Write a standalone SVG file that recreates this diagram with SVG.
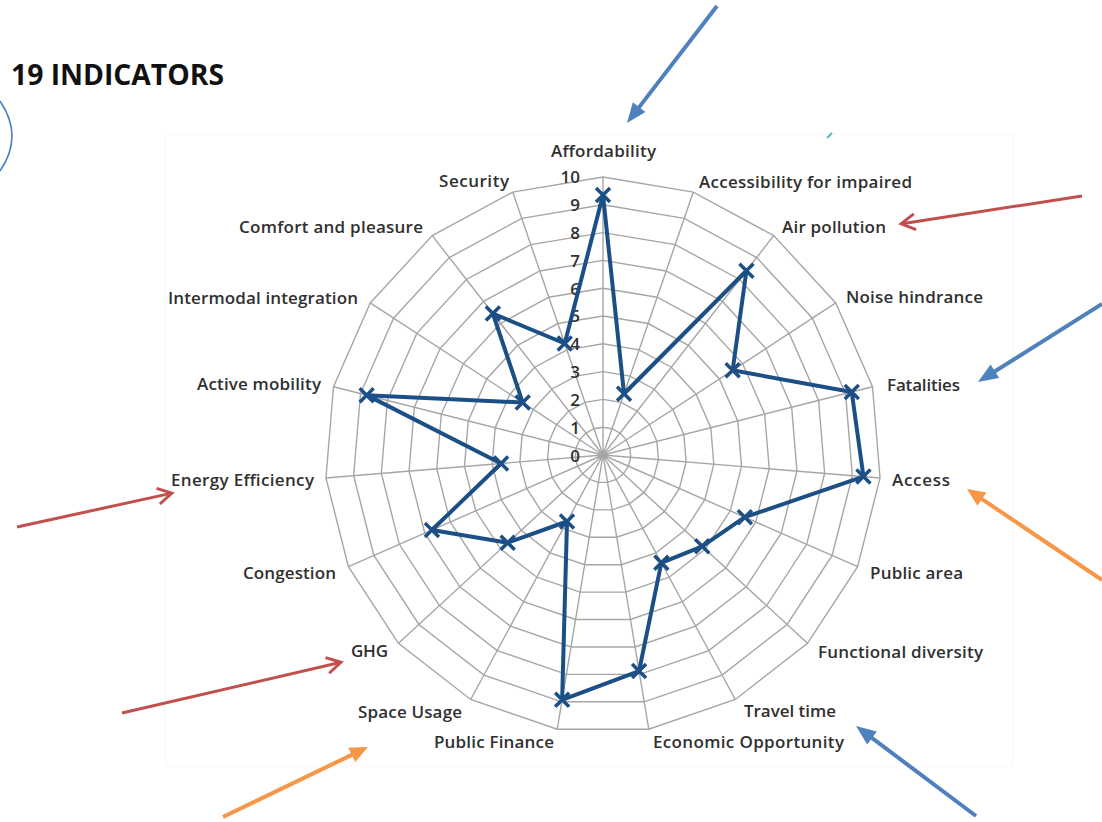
<svg xmlns="http://www.w3.org/2000/svg" width="1102" height="822" viewBox="0 0 1102 822">
<defs>
<style>
.lbl{font-family:"Open Sans","Liberation Sans",sans-serif;font-size:17px;font-weight:600;fill:#303030}
.num{font-family:"Open Sans","Liberation Sans",sans-serif;font-size:17px;font-weight:600;fill:#303030;text-anchor:end}
.grid{fill:none;stroke:#a6a6a6}
.series{fill:none;stroke:#1c4f86;stroke-width:4;stroke-linejoin:round}
.mk{fill:none;stroke:#1c4f86;stroke-width:3.5}
.ab{fill:none;stroke:#4f81bd;stroke-width:4}
.ar{fill:none;stroke:#c0504d;stroke-width:3}
.ao{fill:none;stroke:#f79646;stroke-width:4}
</style>
<polygon id="ring" fill="none" points="0,-278 90.27,-262.94 170.75,-219.38 232.73,-152.05 269.49,-68.25 277.05,22.96 254.58,111.67 204.53,188.28 132.31,244.49 45.76,274.21 -45.76,274.21 -132.31,244.49 -204.53,188.28 -254.58,111.67 -277.05,22.96 -269.49,-68.25 -232.73,-152.05 -170.75,-219.38 -90.27,-262.94"/>
<path id="x" d="M-7,-7L7,7M-7,7L7,-7"/>
<marker id="hb" markerUnits="userSpaceOnUse" viewBox="0 0 20 18" markerWidth="20" markerHeight="18" refX="6" refY="9" orient="auto" overflow="visible"><path d="M0,1L20,9L0,17z" fill="#4f81bd"/></marker>
<marker id="ho" markerUnits="userSpaceOnUse" viewBox="0 0 18 16" markerWidth="18" markerHeight="16" refX="4" refY="8" orient="auto" overflow="visible"><path d="M0,0L18,8L0,16z" fill="#f79646"/></marker>
<marker id="hr" markerUnits="userSpaceOnUse" viewBox="0 0 20 20" markerWidth="20" markerHeight="20" refX="15" refY="10" orient="auto" overflow="visible"><path d="M2,2L16,10L2,18" fill="none" stroke="#c0504d" stroke-width="3"/></marker>
</defs>
<rect width="1102" height="822" fill="#ffffff"/>
<rect x="165" y="134" width="848" height="632" fill="#ffffff" stroke="#f7f7f7" stroke-width="1"/>
<path d="M0,101 Q24,136 0,171" fill="none" stroke="#4a7cc4" stroke-width="1.6"/>
<path d="M827,138 L832,133" stroke="#5bb8c0" stroke-width="2"/>
<text id="title" x="11" y="85" font-family="'Open Sans','Liberation Sans',sans-serif" font-weight="700" font-size="29" textLength="213" lengthAdjust="spacingAndGlyphs" fill="#111111">19 INDICATORS</text>

<g id="grid" class="grid">
<g transform="translate(603 455)">
<path d="M0,0L0,-278M0,0L90.27,-262.94M0,0L170.75,-219.38M0,0L232.73,-152.05M0,0L269.49,-68.25M0,0L277.05,22.96M0,0L254.58,111.67M0,0L204.53,188.28M0,0L132.31,244.49M0,0L45.76,274.21M0,0L-45.76,274.21M0,0L-132.31,244.49M0,0L-204.53,188.28M0,0L-254.58,111.67M0,0L-277.05,22.96M0,0L-269.49,-68.25M0,0L-232.73,-152.05M0,0L-170.75,-219.38M0,0L-90.27,-262.94" stroke-width="1.4"/>
<use href="#ring" transform="scale(0.1)" stroke-width="14"/>
<use href="#ring" transform="scale(0.2)" stroke-width="7"/>
<use href="#ring" transform="scale(0.3)" stroke-width="4.667"/>
<use href="#ring" transform="scale(0.4)" stroke-width="3.5"/>
<use href="#ring" transform="scale(0.5)" stroke-width="2.8"/>
<use href="#ring" transform="scale(0.6)" stroke-width="2.333"/>
<use href="#ring" transform="scale(0.7)" stroke-width="2"/>
<use href="#ring" transform="scale(0.8)" stroke-width="1.75"/>
<use href="#ring" transform="scale(0.9)" stroke-width="1.556"/>
<use href="#ring" transform="scale(1)" stroke-width="1.4"/>
</g>
</g>

<g id="scale">
<text class="num" x="580" y="462">0</text>
<text class="num" x="580" y="434">1</text>
<text class="num" x="580" y="406">2</text>
<text class="num" x="580" y="378">3</text>
<text class="num" x="580" y="350">4</text>
<text class="num" x="580" y="322">5</text>
<text class="num" x="580" y="295">6</text>
<text class="num" x="580" y="267">7</text>
<text class="num" x="580" y="239">8</text>
<text class="num" x="580" y="211">9</text>
<text class="num" x="580" y="183">10</text>
</g>

<g id="series">
<polygon class="series" points="603,195.07 624.03,393.74 746.43,270.72 732.64,370.31 851.74,392.01 863.43,476.58 744.81,517.2 702.2,546.32 661.35,562.82 639.06,671.07 562.14,699.86 567.01,521.5 507.69,542.74 431.92,530.04 501.05,463.45 366.65,395.15 522.71,402.54 492.87,313.5 564.73,343.52"/>
<g class="mk">
<use href="#x" x="603" y="195.07"/>
<use href="#x" x="624.03" y="393.74"/>
<use href="#x" x="746.43" y="270.72"/>
<use href="#x" x="732.64" y="370.31"/>
<use href="#x" x="851.74" y="392.01"/>
<use href="#x" x="863.43" y="476.58"/>
<use href="#x" x="744.81" y="517.2"/>
<use href="#x" x="702.2" y="546.32"/>
<use href="#x" x="661.35" y="562.82"/>
<use href="#x" x="639.06" y="671.07"/>
<use href="#x" x="562.14" y="699.86"/>
<use href="#x" x="567.01" y="521.5"/>
<use href="#x" x="507.69" y="542.74"/>
<use href="#x" x="431.92" y="530.04"/>
<use href="#x" x="501.05" y="463.45"/>
<use href="#x" x="366.65" y="395.15"/>
<use href="#x" x="522.71" y="402.54"/>
<use href="#x" x="492.87" y="313.5"/>
<use href="#x" x="564.73" y="343.52"/>
</g>
</g>

<g id="labels">
<text id="n-affordability" class="lbl" x="551" y="157" textLength="105">Affordability</text>
<text id="n-accessibility" class="lbl" x="699" y="188" textLength="213">Accessibility for impaired</text>
<text id="n-air" class="lbl" x="782" y="233" textLength="104">Air pollution</text>
<text id="n-noise" class="lbl" x="846" y="303" textLength="137">Noise hindrance</text>
<text id="n-fatalities" class="lbl" x="887" y="391" textLength="73">Fatalities</text>
<text id="n-access" class="lbl" x="892" y="486" textLength="58">Access</text>
<text id="n-publicarea" class="lbl" x="870" y="579" textLength="93">Public area</text>
<text id="n-functional" class="lbl" x="818" y="658" textLength="165">Functional diversity</text>
<text id="n-travel" class="lbl" x="744" y="717" textLength="92">Travel time</text>
<text id="n-economic" class="lbl" x="653" y="748" textLength="191">Economic Opportunity</text>
<text id="n-finance" class="lbl" x="434" y="748" textLength="120">Public Finance</text>
<text id="n-space" class="lbl" x="358" y="718" textLength="104">Space Usage</text>
<text id="n-ghg" class="lbl" x="351" y="657" textLength="37">GHG</text>
<text id="n-congestion" class="lbl" x="243" y="579" textLength="93">Congestion</text>
<text id="n-energy" class="lbl" x="171" y="486" textLength="143">Energy Efficiency</text>
<text id="n-active" class="lbl" x="197" y="390" textLength="124">Active mobility</text>
<text id="n-intermodal" class="lbl" x="168" y="304" textLength="190">Intermodal integration</text>
<text id="n-comfort" class="lbl" x="239" y="233" textLength="184">Comfort and pleasure</text>
<text id="n-security" class="lbl" x="439" y="187" textLength="70">Security</text>
</g>

<g id="arrows">
<line class="ab" x1="717" y1="6" x2="635.5" y2="111.9" marker-end="url(#hb)"/>
<line class="ar" x1="1082" y1="196" x2="902.1" y2="223.7" marker-end="url(#hr)"/>
<line class="ab" x1="1102" y1="304" x2="989.8" y2="374.5" marker-end="url(#hb)"/>
<line class="ao" x1="1102" y1="580" x2="978.6" y2="496.8" marker-end="url(#ho)"/>
<line class="ab" x1="976" y1="816" x2="867.2" y2="734.4" marker-end="url(#hb)"/>
<line class="ar" x1="17" y1="527" x2="170.9" y2="493.4" marker-end="url(#hr)"/>
<line class="ar" x1="122" y1="713" x2="340" y2="662.5" marker-end="url(#hr)"/>
<line class="ao" x1="223" y1="817" x2="355.4" y2="753.1" marker-end="url(#ho)"/>
</g>
</svg>
